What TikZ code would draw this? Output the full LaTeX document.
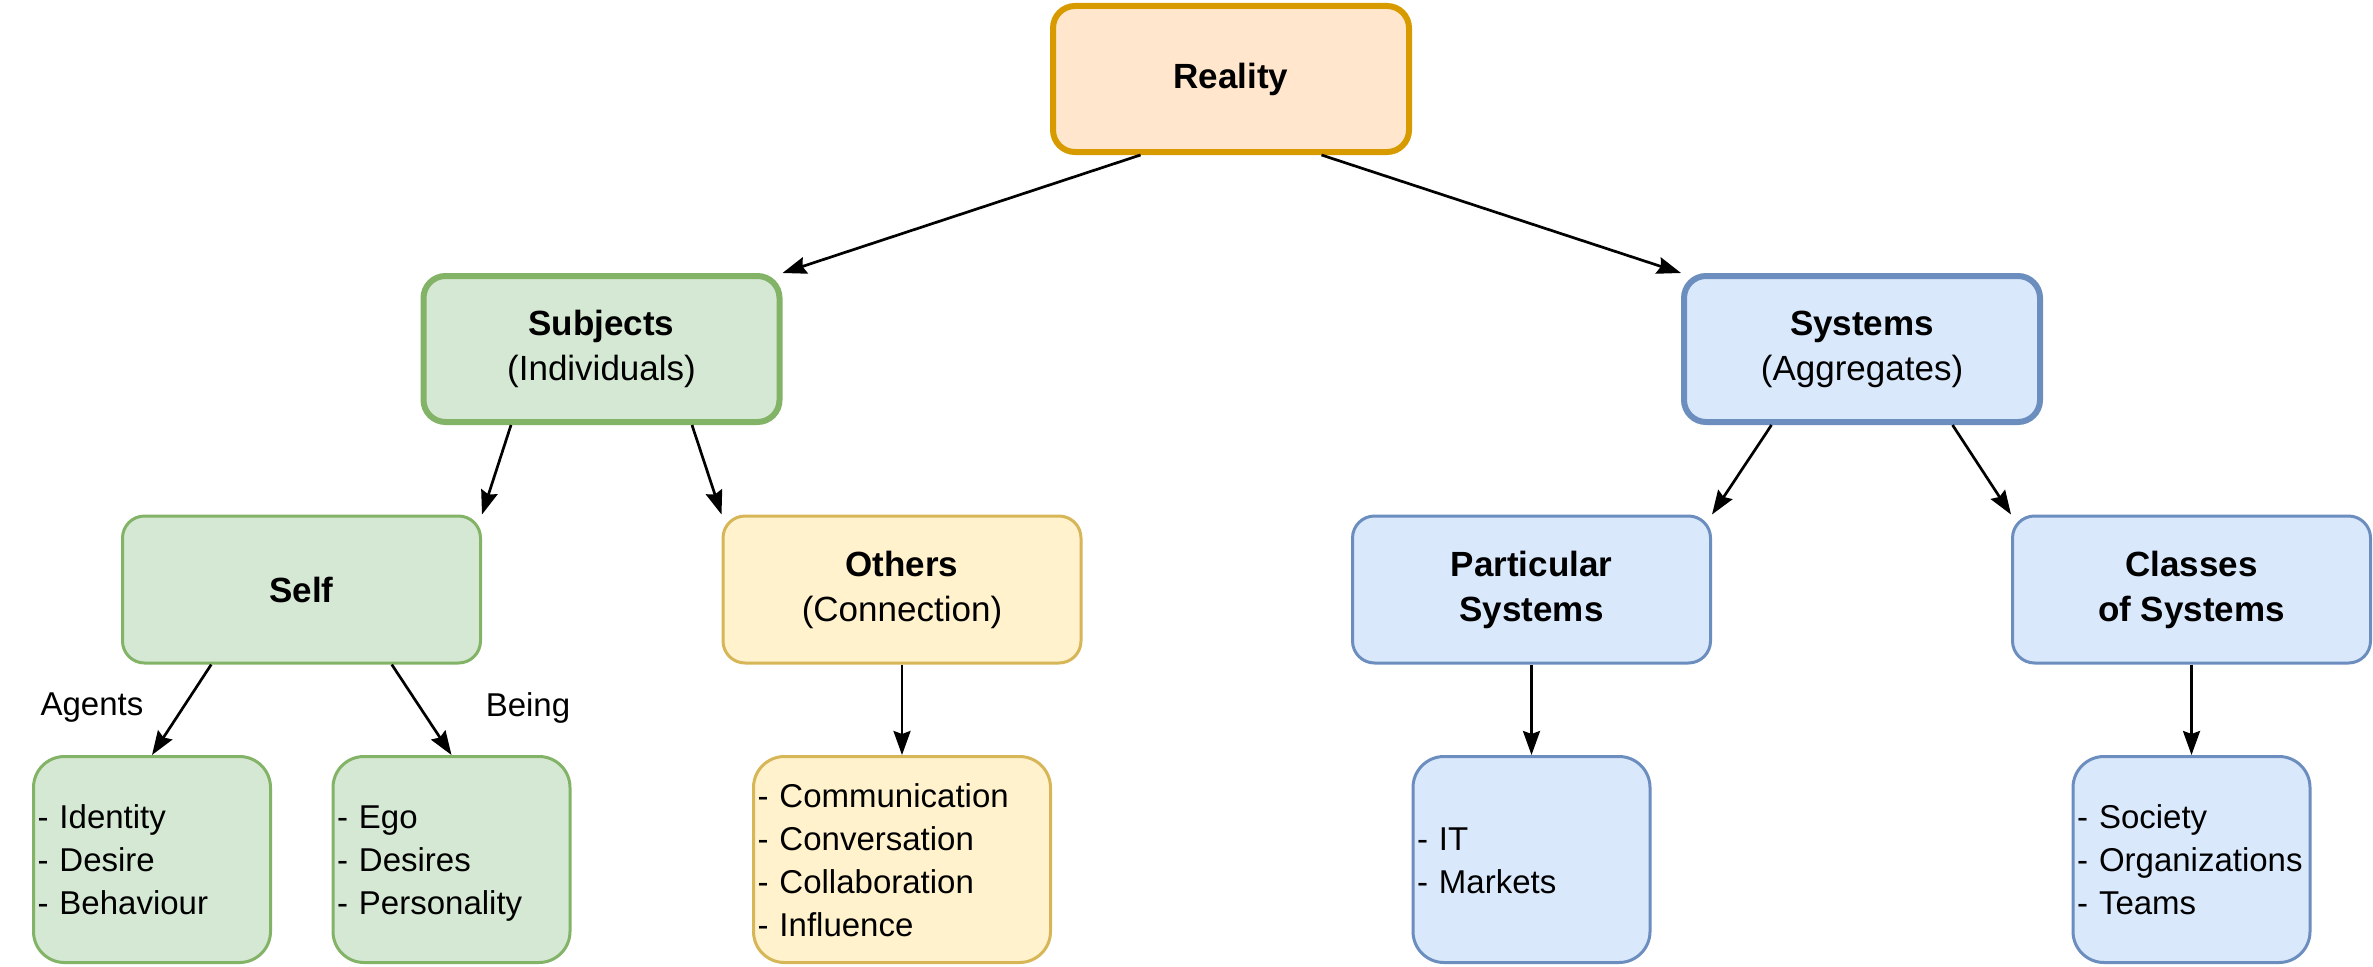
\documentclass[tikz,border=0pt]{standalone}
\usepackage{fontspec}
\setmainfont{Liberation Sans}
\usetikzlibrary{arrows.meta,calc}
\definecolor{orfill}{HTML}{FFE6CC}
\definecolor{ordraw}{HTML}{D79B00}
\definecolor{grfill}{HTML}{D5E8D4}
\definecolor{grdraw}{HTML}{82B366}
\definecolor{yefill}{HTML}{FFF2CC}
\definecolor{yedraw}{HTML}{D6B656}
\definecolor{blfill}{HTML}{DAE8FC}
\definecolor{bldraw}{HTML}{6C8EBF}
\newcommand{\lfdepth}{\rule[-6pt]{0pt}{6pt}}
\begin{document}
\begin{tikzpicture}[x=1pt,y=-1pt,
  topbox/.style={draw, rounded corners=22pt, line width=6pt, minimum width=356pt, minimum height=146pt, align=center, inner sep=0pt, font=\fontsize{35}{45}\selectfont},
  midbox/.style={draw, rounded corners=22pt, line width=3pt, minimum width=358pt, minimum height=147pt, align=center, inner sep=0pt, font=\fontsize{35}{45}\selectfont},
  leafbox/.style={draw, rounded corners=31pt, line width=3pt, text width=229pt, inner xsep=4pt, inner ysep=0pt, minimum height=206pt, align=left, font=\fontsize{33}{43}\selectfont},
  widebox/.style={leafbox, text width=289pt},
  orange/.style={fill=orfill, draw=ordraw},
  green/.style={fill=grfill, draw=grdraw},
  yellow/.style={fill=yefill, draw=yedraw},
  blue/.style={fill=blfill, draw=bldraw},
  lbl/.style={inner sep=0pt, font=\fontsize{33}{43}\selectfont},
  arr/.style={line width=2.7pt, -{Stealth[length=24pt,width=17pt,inset=3pt]}}
]
\useasboundingbox (0,0) rectangle (2373,966);

\node[topbox, orange] (reality) at (1231,79) {\bfseries Reality};
\node[topbox, green] (subjects) at (601.5,349) {{\bfseries Subjects}\\(Individuals)};
\node[topbox, blue] (systems) at (1862,349) {{\bfseries Systems}\\(Aggregates)};

\node[midbox, green] (self) at (301.5,589.5) {\bfseries Self};
\node[midbox, yellow] (others) at (902,589.5) {{\bfseries Others}\\(Connection)};
\node[midbox, blue] (particular) at (1531.5,589.5) {\bfseries Particular\\\bfseries Systems};
\node[midbox, blue] (classes) at (2191.5,589.5) {\bfseries Classes\\\bfseries of Systems};

\node[leafbox, green] (identity) at (152,859.5) {\strut- Identity\\- Desire\\- Behaviour\lfdepth};
\node[leafbox, green] (ego) at (451.5,859.5) {\strut- Ego\\- Desires\\- Personality\lfdepth};
\node[widebox, yellow] (comm) at (902,859.5) {\strut- Communication\\- Conversation\\- Collaboration\\- Influence\lfdepth};
\node[leafbox, blue] (it) at (1531.5,859.5) {\strut- IT\\- Markets\lfdepth};
\node[leafbox, blue] (society) at (2191.5,859.5) {\strut- Society\\- Organizations\\- Teams\lfdepth};

\node[lbl] (agents) at (92,708) {Agents};
\node[lbl] (being) at (528,708) {Being};

\draw[arr] ($(reality.south west)!0.25!(reality.south east)$) -- (subjects.north east);
\draw[arr] ($(reality.south west)!0.75!(reality.south east)$) -- (systems.north west);
\draw[arr] ($(subjects.south west)!0.25!(subjects.south east)$) -- (self.north east);
\draw[arr] ($(subjects.south west)!0.75!(subjects.south east)$) -- (others.north west);
\draw[arr] ($(systems.south west)!0.25!(systems.south east)$) -- (particular.north east);
\draw[arr] ($(systems.south west)!0.75!(systems.south east)$) -- (classes.north west);
\draw[arr] ($(self.south west)!0.25!(self.south east)$) -- (identity.north);
\draw[arr] ($(self.south west)!0.75!(self.south east)$) -- (ego.north);
\draw[arr] (others.south) -- (comm.north);
\draw[arr] (particular.south) -- (it.north);
\draw[arr] (classes.south) -- (society.north);
\end{tikzpicture}
\end{document}
